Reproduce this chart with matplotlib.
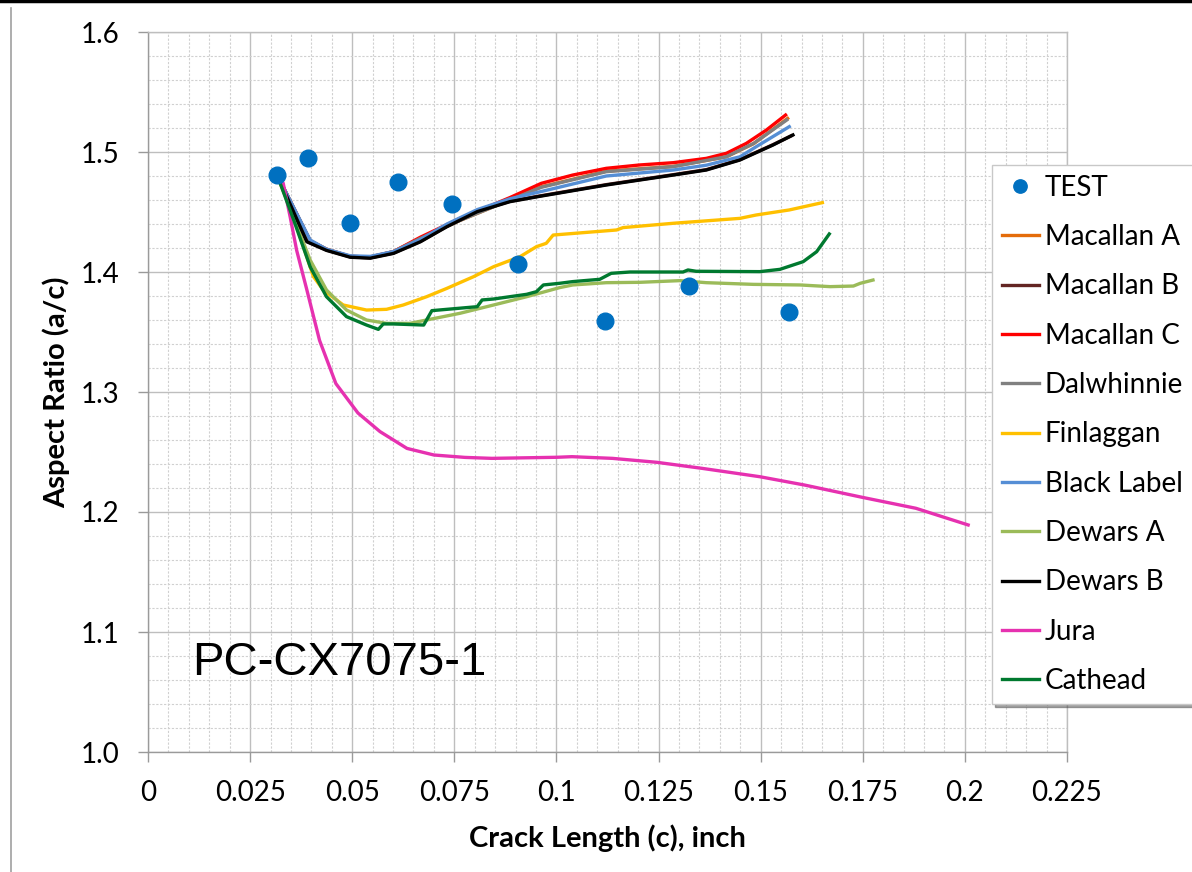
import matplotlib
matplotlib.use('Agg')
import matplotlib.pyplot as plt
from matplotlib.lines import Line2D
from matplotlib.ticker import MultipleLocator, FuncFormatter

# TEST data
test_c = [0.0316, 0.0392, 0.0495, 0.0612, 0.0744, 0.0906, 0.1119, 0.1325, 0.1570]
test_ar = [1.481, 1.495, 1.441, 1.475, 1.457, 1.407, 1.359, 1.388, 1.367]

# model curves
mac_a_c = [0.0316, 0.0397, 0.0437, 0.0495, 0.0544, 0.0601, 0.0667, 0.0764, 0.0886, 0.0963,
           0.1122, 0.1286, 0.1416, 0.1483, 0.1566]
mac_a_ar = [1.481, 1.426, 1.419, 1.413, 1.4125, 1.417, 1.428, 1.443, 1.460, 1.471,
            1.484, 1.488, 1.496, 1.507, 1.528]

mac_b_c = [0.0316, 0.0389, 0.0437, 0.0495, 0.0544, 0.0601, 0.0667, 0.0732, 0.0806, 0.0886,
           0.0958, 0.1122, 0.1286, 0.1367, 0.1449, 0.1530, 0.1575]
mac_b_ar = [1.481, 1.4255, 1.4183, 1.4126, 1.4118, 1.4158, 1.4255, 1.4381, 1.4506, 1.4589,
            1.4633, 1.4728, 1.4811, 1.4853, 1.4936, 1.5061, 1.5135]

mac_c_c = [0.0316, 0.0397, 0.0437, 0.0495, 0.0544, 0.0601, 0.0667, 0.0764, 0.0886, 0.0963,
           0.1040, 0.1122, 0.1204, 0.1286, 0.1367, 0.1416, 0.1465, 0.1514, 0.1561]
mac_c_ar = [1.481, 1.426, 1.419, 1.413, 1.4125, 1.417, 1.429, 1.4447, 1.462, 1.4739,
            1.4808, 1.4864, 1.4892, 1.4911, 1.4947, 1.4989, 1.5072, 1.5183, 1.5308]

dal_c = [0.0316, 0.0397, 0.0437, 0.0495, 0.0544, 0.0601, 0.0667, 0.0764, 0.0886, 0.0963,
         0.1122, 0.1286, 0.1416, 0.1483, 0.1564]
dal_ar = [1.481, 1.426, 1.419, 1.413, 1.4125, 1.417, 1.428, 1.443, 1.460, 1.4706,
          1.4836, 1.4878, 1.4961, 1.5072, 1.5267]

fin_c = [0.0316, 0.0356, 0.0405, 0.0429, 0.0478, 0.0535, 0.0584, 0.0625, 0.0682, 0.0732,
         0.0797, 0.0846, 0.0911, 0.0951, 0.0975, 0.0992, 0.1147, 0.1163, 0.1286, 0.1449,
         0.1489, 0.1570, 0.1651]
fin_ar = [1.481, 1.446, 1.3962, 1.385, 1.3725, 1.3683, 1.3689, 1.3725, 1.3794, 1.3864,
          1.3961, 1.4044, 1.4128, 1.4211, 1.4239, 1.4308, 1.435, 1.437, 1.4406, 1.4447,
          1.4475, 1.4517, 1.4578]

bl_c = [0.0316, 0.0397, 0.0437, 0.0495, 0.0544, 0.0601, 0.0667, 0.0732, 0.0806, 0.0886,
        0.0968, 0.1122, 0.1286, 0.1367, 0.1449, 0.1489, 0.1570]
bl_ar = [1.481, 1.4267, 1.419, 1.4135, 1.413, 1.417, 1.427, 1.440, 1.452, 1.461,
         1.4675, 1.480, 1.485, 1.489, 1.496, 1.5044, 1.5211]

dewa_c = [0.0316, 0.0356, 0.0397, 0.0437, 0.0486, 0.0535, 0.0584, 0.0641, 0.0682, 0.0764,
          0.0846, 0.0927, 0.1008, 0.1040, 0.1122, 0.1204, 0.1302, 0.1367, 0.1482, 0.1596,
          0.1670, 0.1727, 0.1744, 0.1775]
dewa_ar = [1.481, 1.4461, 1.41, 1.385, 1.3683, 1.36, 1.3572, 1.3572, 1.36, 1.3656,
           1.3725, 1.3794, 1.3870, 1.3892, 1.3911, 1.3914, 1.3928, 1.3911, 1.3897, 1.3892,
           1.3878, 1.3883, 1.3906, 1.3933]

dewb_c = [0.0316, 0.0389, 0.0437, 0.0495, 0.0544, 0.0601, 0.0667, 0.0732, 0.0806, 0.0886,
          0.0958, 0.1122, 0.1286, 0.1367, 0.1449, 0.1530, 0.1579]
dewb_ar = [1.481, 1.4252, 1.418, 1.4123, 1.4115, 1.4155, 1.4252, 1.4378, 1.4503, 1.4586,
           1.463, 1.4725, 1.4808, 1.485, 1.4933, 1.5058, 1.5142]

jura_c = [0.0316, 0.0331, 0.0348, 0.0364, 0.0389, 0.0420, 0.0460, 0.0514, 0.0568, 0.0634,
          0.0700, 0.0776, 0.0842, 0.1001, 0.1038, 0.1137, 0.1246, 0.1356, 0.1498, 0.1607,
          0.1749, 0.1880, 0.2008]
jura_ar = [1.481, 1.474, 1.446, 1.418, 1.385, 1.343, 1.307, 1.2825, 1.267, 1.253,
           1.2475, 1.2455, 1.2447, 1.2456, 1.2461, 1.2447, 1.2414, 1.2364, 1.2294, 1.2225,
           1.2122, 1.2031, 1.1892]

cat_c = [0.0316, 0.0356, 0.0397, 0.0437, 0.0486, 0.0535, 0.0564, 0.0576, 0.0601, 0.0675,
         0.0695, 0.0732, 0.0806, 0.0818, 0.0846, 0.0927, 0.0951, 0.0968, 0.1008, 0.1040,
         0.1106, 0.1134, 0.1180, 0.1310, 0.1322, 0.1342, 0.1498, 0.1547, 0.1604, 0.1637,
         0.1668]
cat_ar = [1.481, 1.444, 1.4044, 1.3794, 1.3628, 1.3558, 1.3522, 1.3567, 1.3567, 1.3558,
          1.3678, 1.3689, 1.3711, 1.3767, 1.3775, 1.3814, 1.3836, 1.3892, 1.3906, 1.392,
          1.3939, 1.3989, 1.40, 1.40, 1.4017, 1.4006, 1.4003, 1.4022, 1.4086, 1.4169,
          1.4317]

series = [
    ('Macallan A', mac_a_c, mac_a_ar, '#E46C0A'),
    ('Macallan B', mac_b_c, mac_b_ar, '#632523'),
    ('Macallan C', mac_c_c, mac_c_ar, '#FF0000'),
    ('Dalwhinnie', dal_c, dal_ar, '#808080'),
    ('Finlaggan', fin_c, fin_ar, '#FFC000'),
    ('Black Label', bl_c, bl_ar, '#558ED5'),
    ('Dewars A', dewa_c, dewa_ar, '#9BBB59'),
    ('Dewars B', dewb_c, dewb_ar, '#000000'),
    ('Jura', jura_c, jura_ar, '#E631B0'),
    ('Cathead', cat_c, cat_ar, '#00792F'),
]

plt.rcParams['font.family'] = ['Lato', 'DejaVu Sans']

fig = plt.figure(figsize=(11.92, 8.72), dpi=100)
ax = fig.add_axes([148 / 1192, 120 / 872, 919 / 1192, 720 / 872])

ax.plot(test_c, test_ar, 'o', color='#0070C0', markersize=12, label='TEST', zorder=5)
for name, xs, ys, col in series:
    ax.plot(xs, ys, '-', color=col, lw=2.4, label=name, zorder=3)

ax.set_xlim(0, 0.225)
ax.set_ylim(1.0, 1.6)
ax.xaxis.set_major_locator(MultipleLocator(0.025))
ax.xaxis.set_minor_locator(MultipleLocator(0.005))
ax.yaxis.set_major_locator(MultipleLocator(0.1))
ax.yaxis.set_minor_locator(MultipleLocator(0.02))
ax.xaxis.set_major_formatter(FuncFormatter(lambda v, p: f'{round(v, 4):g}'))
ax.yaxis.set_major_formatter(FuncFormatter(lambda v, p: f'{v:.1f}'))

ax.grid(which='major', color='#BEBEBE', lw=1.0, ls='-')
ax.grid(which='minor', color='#D0D0D0', lw=0.8, ls=(0, (2, 1.5)))
ax.set_axisbelow(True)
ax.tick_params(which='major', length=7.5, width=1, color='#9A9A9A', pad=13, labelsize=20)
ax.tick_params(which='minor', length=0)
for s in ax.spines.values():
    s.set_color('#BEBEBE')
    s.set_linewidth(1.0)
ax.spines['left'].set_color('#9A9A9A')
ax.spines['bottom'].set_color('#9A9A9A')

ax.set_xlabel('Crack Length (c), inch', fontsize=21, fontweight='bold', labelpad=13)
ax.set_ylabel('Aspect Ratio (a/c)', fontsize=21, fontweight='bold', labelpad=8)

ax.text(192 / 1192, 1 - 663 / 872, 'PC-CX7075-1', transform=fig.transFigure,
        family='Liberation Sans', fontsize=34, va='center', ha='left')

leg = ax.legend(loc='upper left', bbox_to_anchor=(992 / 1192, 1 - 165 / 872),
                bbox_transform=fig.transFigure, fontsize=20, frameon=True, fancybox=False,
                shadow=True, borderaxespad=0, borderpad=0.35, labelspacing=0.84,
                handlelength=1.35, handletextpad=0.2, markerscale=0.8)
leg.get_frame().set_edgecolor('#C8C8C8')
leg.get_frame().set_linewidth(1.0)
leg.set_zorder(10)

# chart area border lines
fig.add_artist(Line2D([0, 1], [1 - 1.5 / 872, 1 - 1.5 / 872], transform=fig.transFigure,
                      color='black', lw=2.5))
fig.add_artist(Line2D([11 / 1192, 11 / 1192], [0, 1 - 8 / 872], transform=fig.transFigure,
                      color='#A0A0A0', lw=1.2))

fig.savefig('out.png', dpi=100)
